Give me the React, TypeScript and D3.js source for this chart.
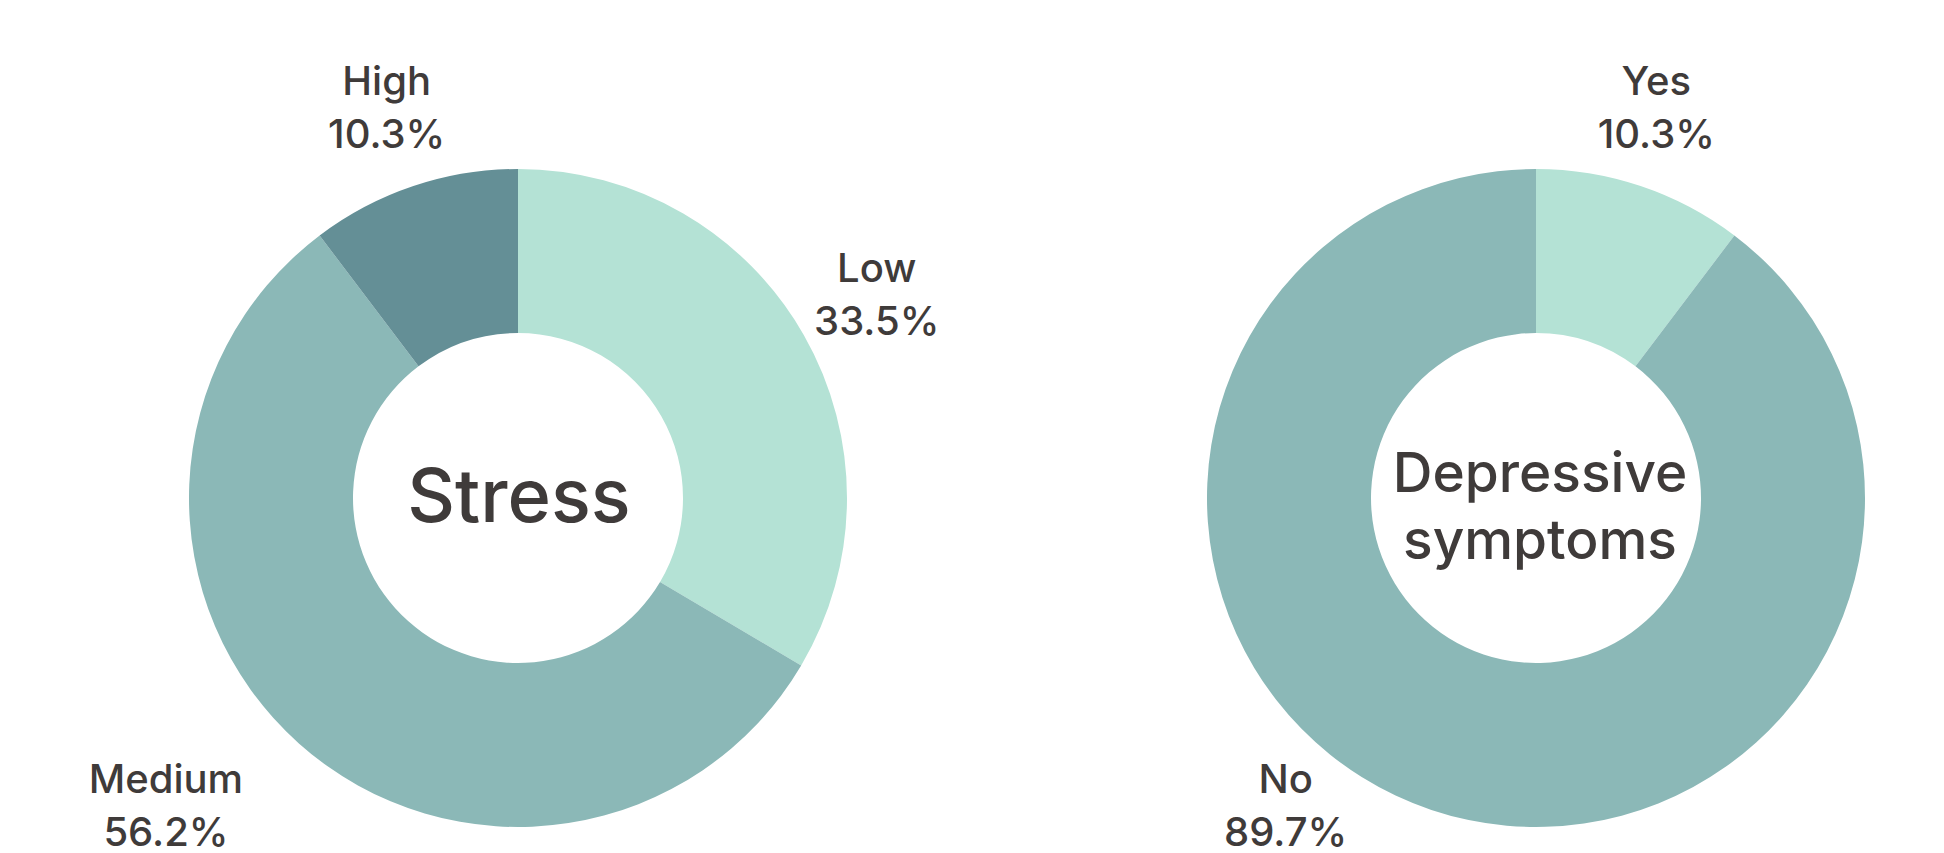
import React from "react";
import * as d3 from "d3";

const stressCategories = ["Low", "Medium", "High"];
const stressValues = [33.5, 56.2, 10.3];
const stressColors = ["#b4e2d5", "#8bb8b7", "#648f96"];
const stressTitle = ["Stress"];

const depCategories = ["Yes", "No"];
const depValues = [10.3, 89.7];
const depColors = ["#b4e2d5", "#8bb8b7"];
const depTitle = ["Depressive", "symptoms"];

const W = 1944;
const H = 853;
const OUTER = 329;
const INNER = 165;
const LABEL_R = 413;
const TEXT = "#3f3b3a";
const FONT = "Inter, 'Noto Sans', sans-serif";

// label nudges (px) for labels that were pushed aside near the bottom edge
const labelNudge: Record<string, [number, number]> = {
  Medium: [-77, -2],
  No: [-119, -85],
  Yes: [-11, 0],
};

type DonutProps = {
  cx: number;
  cy: number;
  categories: string[];
  values: number[];
  colors: string[];
  title: string[];
};

function Donut({ cx, cy, categories, values, colors, title }: DonutProps) {
  const pie = d3
    .pie<number>()
    .sort(null)
    .value((d) => d);
  const arcs = pie(values);
  const arc = d3
    .arc<d3.PieArcDatum<number>>()
    .innerRadius(INNER)
    .outerRadius(OUTER);
  const labelArc = d3
    .arc<d3.PieArcDatum<number>>()
    .innerRadius(LABEL_R)
    .outerRadius(LABEL_R);

  const titleSize = title.length === 1 ? 74 : 55;
  const titleLine = 67;
  const titleStart = title.length === 1 ? 24 : -6;

  return (
    <g transform={`translate(${cx},${cy})`}>
      {arcs.map((a, i) => (
        <path key={i} d={arc(a) || ""} fill={colors[i]} />
      ))}
      {arcs.map((a, i) => {
        const [lx, ly] = labelArc.centroid(a);
        const n = labelNudge[categories[i]] || [0, 0];
        const x = lx + n[0];
        const y = ly + n[1];
        return (
          <text
            key={"l" + i}
            x={x}
            textAnchor="middle"
            fill={TEXT}
            fontFamily={FONT}
            fontSize={40}
            fontWeight={500}
          >
            <tspan x={x} y={y - 11.5}>
              {categories[i]}
            </tspan>
            <tspan x={x} y={y + 41.5}>
              {d3.format(".1f")(values[i]) + "%"}
            </tspan>
          </text>
        );
      })}
      <text
        textAnchor="middle"
        fill={TEXT}
        fontFamily={FONT}
        fontSize={titleSize}
        fontWeight={500}
      >
        {title.map((t, i) => (
          <tspan key={i} x={title.length === 1 ? 1 : 4} y={titleStart + i * titleLine}>
            {t}
          </tspan>
        ))}
      </text>
    </g>
  );
}

export default function App() {
  return (
    <svg
      width={W}
      height={H}
      style={{ position: "absolute", left: 0, top: 0, background: "#fff" }}
    >
      <rect width={W} height={H} fill="#fff" />
      <Donut
        cx={518}
        cy={498}
        categories={stressCategories}
        values={stressValues}
        colors={stressColors}
        title={stressTitle}
      />
      <Donut
        cx={1536}
        cy={498}
        categories={depCategories}
        values={depValues}
        colors={depColors}
        title={depTitle}
      />
    </svg>
  );
}
